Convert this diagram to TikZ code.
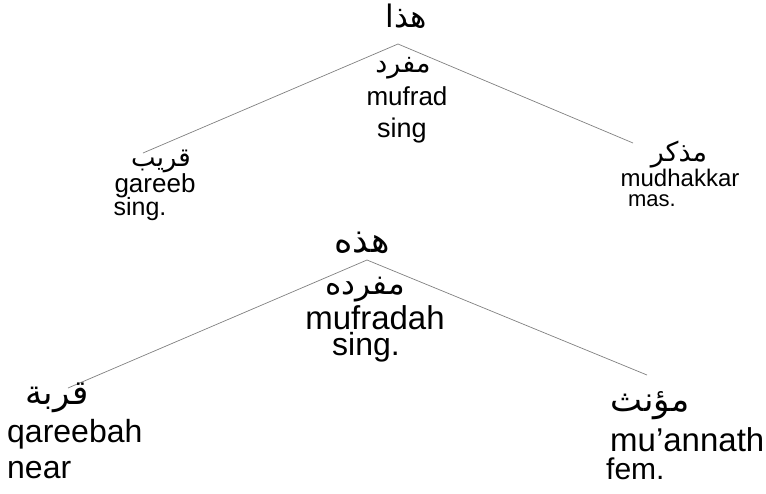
\documentclass[tikz,border=0pt]{standalone}
\usepackage{fontspec}
\setmainfont{Liberation Sans}
\newfontfamily\arabicfont[Script=Arabic]{DejaVu Sans}
\TeXXeTstate=1
\newcommand\myfs[1]{\fontsize{#1}{#1}\selectfont}
\begin{document}
\begin{tikzpicture}[x=1pt,y=-1pt,
  lat/.style={inner sep=0pt, anchor=base, font=\myfs{#1}},
  latw/.style={inner sep=0pt, anchor=base west, font=\myfs{#1}},
  ar/.style={inner sep=0pt, anchor=base, font={\arabicfont\myfs{#1}}},
  branch/.style={draw=black!50, line width=0.7pt}]
\useasboundingbox (0,0) rectangle (766,493);
% ---- first tree
\node[ar=31] (hadha) at (406,27) {\beginR هذا\endR};
\coordinate (apexA) at (398,44);
\coordinate (leftA) at (143,153);
\coordinate (rightA) at (633,143);
\draw[branch] (leftA) -- (apexA) -- (rightA);
\node[ar=27] (mufradAr) at (403,72) {\beginR مفرد\endR};
\node[lat=26] (mufrad) at (407,105) {mufrad};
\node[lat=27] (singA) at (402,137) {sing};
\node[ar=26] (qareebAr) at (161,166) {\beginR قريب\endR};
\node[lat=26] (gareeb) at (155,192) {gareeb};
\node[lat=25] (singB) at (140,215) {sing.};
\node[ar=27] (mudhAr) at (679,161) {\beginR مذكر\endR};
\node[lat=24] (mudhakkar) at (680,186) {mudhakkar};
\node[lat=22] (mas) at (652,206) {mas.};
% ---- second tree
\node[ar=35] (hadhihi) at (362,252) {\beginR هذه\endR};
\coordinate (apexB) at (367,260);
\coordinate (leftB) at (68,388);
\coordinate (rightB) at (647,375);
\draw[branch] (leftB) -- (apexB) -- (rightB);
\node[ar=31] (mufradahAr) at (365,294) {\beginR مفرده\endR};
\node[lat=33] (mufradah) at (375,329) {mufradah};
\node[lat=32] (singC) at (366,355) {sing.};
\node[ar=34] (qareebahAr) at (57,404) {\beginR قربة\endR};
\node[latw=32] (qareebah) at (7,442) {qareebah};
\node[latw=32] (near) at (7,478) {near};
\node[ar=34] (muannathAr) at (650,411) {\beginR مؤنث\endR};
\node[latw=33] (muannath) at (610,451) {mu’annath};
\node[latw=30] (fem) at (606,479) {fem.};
\end{tikzpicture}
\end{document}
